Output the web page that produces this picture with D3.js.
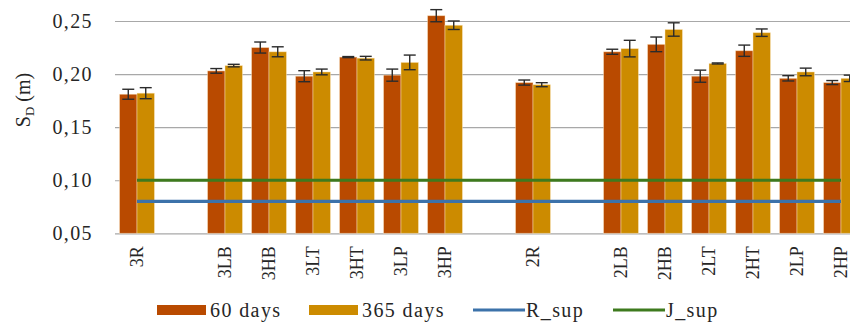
<!DOCTYPE html>
<html>
<head>
<meta charset="utf-8">
<script src="https://cdn.jsdelivr.net/npm/d3@7/dist/d3.min.js"></script>
<style>
  html, body { margin: 0; padding: 0; background: #fff; }
  svg { display: block; }
  text { font-family: "Liberation Serif", "Times New Roman", serif; fill: #262626; }
</style>
</head>
<body>
<svg id="chart" width="850" height="324"></svg>
<script>
// Categories (empty strings are spacer slots between groups)
const categories = ["3R", "", "3LB", "3HB", "3LT", "3HT", "3LP", "3HP", "", "2R", "", "2LB", "2HB", "2LT", "2HT", "2LP", "2HP"];
// Mean S_D (m) after 60 days and 365 days
const days60  = [0.181, null, 0.203, 0.225, 0.198, 0.216, 0.199, 0.255, null, 0.192, null, 0.221, 0.228, 0.198, 0.222, 0.196, 0.192];
const days365 = [0.182, null, 0.208, 0.221, 0.202, 0.215, 0.211, 0.246, null, 0.190, null, 0.224, 0.242, 0.210, 0.239, 0.202, 0.196];
// Error bar half-widths
const err60   = [0.0047, null, 0.0022, 0.0052, 0.0052, 0.0005, 0.0057, 0.0057, null, 0.0024, null, 0.0024, 0.0069, 0.0057, 0.0053, 0.0025, 0.0019];
const err365  = [0.0052, null, 0.0012, 0.0047, 0.0027, 0.0017, 0.0069, 0.0040, null, 0.0019, null, 0.0078, 0.0063, 0.0005, 0.0035, 0.0036, 0.0030];
// Reference levels
const rSup = 0.08;
const jSup = 0.10;
const yTicks = [0.05, 0.10, 0.15, 0.20, 0.25];
const seriesNames = ["60 days", "365 days"];
const lineNames = ["R_sup", "J_sup"];

const colors = { "60 days": "#B94A00", "365 days": "#CC8B00", "R_sup": "#3C72AA", "J_sup": "#3E7A1E" };

const svg = d3.select("#chart");
const plot = { left: 115, right: 863, top: 21, bottom: 233.3 };

const y = d3.scaleLinear().domain([0.05, 0.25]).range([plot.bottom, plot.top]);
const x = d3.scaleBand().domain(d3.range(categories.length)).range([plot.left, plot.right]).paddingInner(0).paddingOuter(0);
const xs = d3.scaleBand().domain(seriesNames).range([0, x.bandwidth()]).paddingInner(0).paddingOuter(0.26);

// Gridlines
const grid = svg.append("g")
  .attr("transform", `translate(${plot.left},0)`)
  .call(d3.axisLeft(y).tickValues(yTicks).tickSize(-(850 - plot.left)).tickFormat(""));
grid.select(".domain").remove();
grid.selectAll(".tick line").attr("stroke", "#A8A8A8").attr("stroke-width", 1.2);

// Y axis labels
const yAxis = svg.append("g")
  .attr("transform", `translate(${plot.left},0)`)
  .call(d3.axisLeft(y).tickValues(yTicks).tickSize(0).tickPadding(22)
    .tickFormat(d => d.toFixed(2).replace(".", ",")));
yAxis.select(".domain").remove();
yAxis.selectAll(".tick text")
  .attr("font-family", "Liberation Serif, serif")
  .attr("font-size", 20)
  .attr("letter-spacing", "1.4px")
  .attr("fill", "#262626");

// Y axis title: S_D (m)
const yTitle = svg.append("text")
  .attr("transform", "translate(30,100) rotate(-90)")
  .attr("text-anchor", "middle")
  .attr("font-size", 20);
yTitle.append("tspan").text("S");
yTitle.append("tspan").attr("font-size", 13).attr("dy", 4).text("D");
yTitle.append("tspan").attr("dy", -4).text(" (m)");

// Bars
const rows = categories.map((c, i) => ({ i, c, vals: [
  { s: "60 days", v: days60[i], e: err60[i] },
  { s: "365 days", v: days365[i], e: err365[i] }
]})).filter(r => r.c !== "");

const groups = svg.append("g").selectAll("g")
  .data(rows).join("g")
  .attr("transform", d => `translate(${x(d.i)},0)`);

groups.selectAll("rect")
  .data(d => d.vals).join("rect")
  .attr("x", d => xs(d.s))
  .attr("width", xs.bandwidth())
  .attr("y", d => y(d.v))
  .attr("height", d => y(0.05) - y(d.v))
  .attr("fill", d => colors[d.s])
  .attr("stroke", "rgba(255,235,200,0.55)")
  .attr("stroke-width", 0.8);

// Error bars
const eb = groups.selectAll("g.err")
  .data(d => d.vals).join("g").attr("class", "err")
  .attr("stroke", "#2b2b2b").attr("stroke-width", 1.4);
const cx = d => xs(d.s) + xs.bandwidth() / 2;
eb.append("line")
  .attr("x1", cx).attr("x2", cx)
  .attr("y1", d => y(d.v + d.e)).attr("y2", d => y(d.v - d.e));
eb.append("line")
  .attr("x1", d => cx(d) - 6).attr("x2", d => cx(d) + 6)
  .attr("y1", d => y(d.v + d.e)).attr("y2", d => y(d.v + d.e));
eb.append("line")
  .attr("x1", d => cx(d) - 6).attr("x2", d => cx(d) + 6)
  .attr("y1", d => y(d.v - d.e)).attr("y2", d => y(d.v - d.e));

// Reference lines across all category centres
const centres = categories.map((c, i) => x(i) + x.bandwidth() / 2);
const line = d3.line().x(d => d[0]).y(d => y(d[1]));
[["R_sup", rSup], ["J_sup", jSup]].forEach(([name, val]) => {
  svg.append("path")
    .attr("d", line(centres.map(cxv => [cxv, val])))
    .attr("fill", "none")
    .attr("stroke", colors[name])
    .attr("stroke-width", 3.2);
});

// X axis labels
const xAxis = svg.append("g")
  .attr("transform", `translate(0,${plot.bottom})`)
  .call(d3.axisBottom(x).tickSize(0).tickFormat(i => categories[i]));
xAxis.select(".domain").remove();
xAxis.selectAll(".tick text")
  .attr("font-family", "Liberation Serif, serif")
  .attr("font-size", 18)
  .attr("fill", "#262626")
  .attr("text-anchor", "end")
  .attr("transform", "rotate(-90)")
  .attr("x", -13)
  .attr("y", 0)
  .attr("dy", "0.35em");

// Legend
const legend = svg.append("g").attr("font-size", 20).attr("letter-spacing", "1.4px");
const legendItems = [
  { name: seriesNames[0], kind: "rect", x: 157 },
  { name: seriesNames[1], kind: "rect", x: 309 },
  { name: lineNames[0], kind: "line", x: 473 },
  { name: lineNames[1], kind: "line", x: 613 }
];
legendItems.forEach(it => {
  if (it.kind === "rect") {
    legend.append("rect").attr("x", it.x).attr("y", 305).attr("width", 49).attr("height", 10)
      .attr("fill", colors[it.name]);
  } else {
    legend.append("line").attr("x1", it.x).attr("x2", it.x + 52).attr("y1", 310).attr("y2", 310)
      .attr("stroke", colors[it.name]).attr("stroke-width", 3.2);
  }
  legend.append("text").attr("x", it.x + 53).attr("y", 317).text(it.name);
});
</script>
</body>
</html>
